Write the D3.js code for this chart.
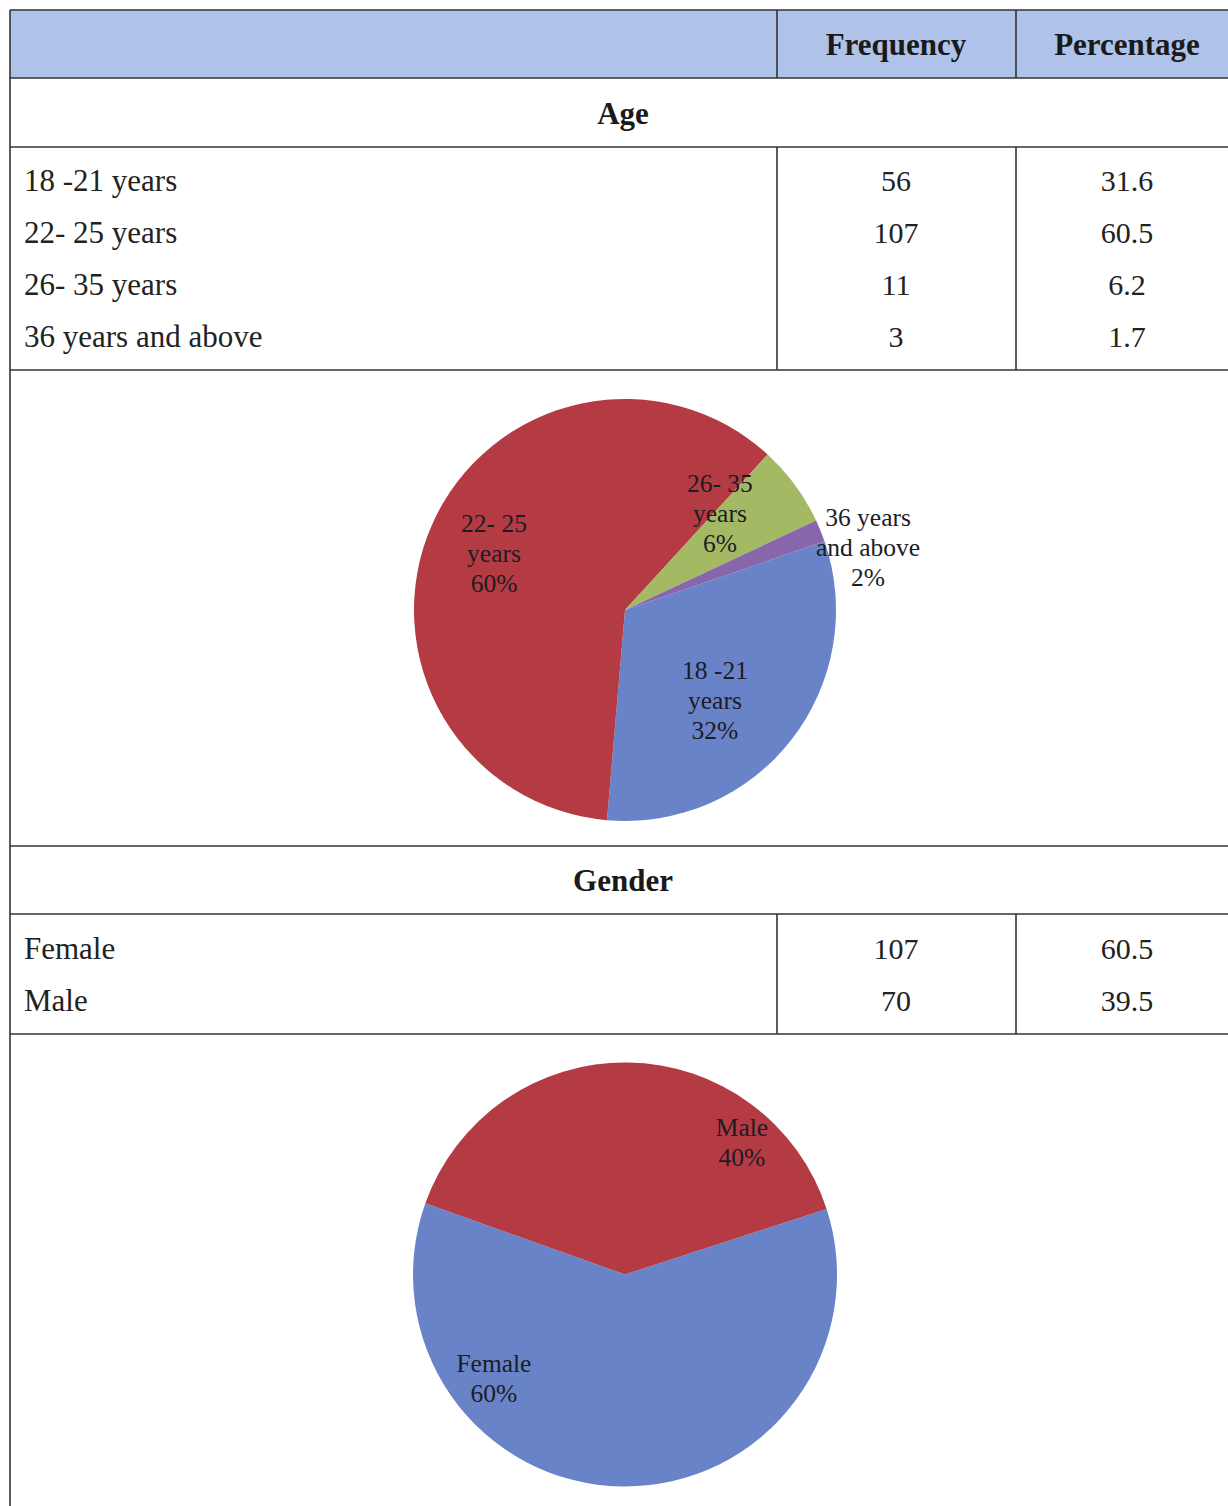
<!DOCTYPE html>
<meta charset="utf-8">
<script src="https://d3js.org/d3.v7.min.js"></script>
<style>
body { margin: 0; background: #fff; }
text { font-family: "Liberation Serif", "Times New Roman", serif; }
</style>
<svg id="chart" width="1228" height="1506"></svg>
<script>
// table + pie data
const colHeads = ["Frequency", "Percentage"]

const ageGroups = ["18 -21 years", "22- 25 years", "26- 35 years", "36 years and above"]
const ageFreq = [56, 107, 11, 3]
const agePct = ["31.6", "60.5", "6.2", "1.7"]
const agePieNames = [["18 -21", "years"], ["22- 25", "years"], ["26- 35", "years"], ["36 years", "and above"]]

const genders = ["Female", "Male"]
const genderFreq = [107, 70]
const genderPct = ["60.5", "39.5"]
const genderPieNames = [["Female"], ["Male"]]

const ageColors = ["#6883c8", "#b43a43", "#a3b963", "#8766ac"]
const genderColors = ["#6883c8", "#b43a43"]

// label placement (angle in degrees clockwise from top, distance as fraction of radius)
const ageLabelPos = [[135, 0.603], [293.5, 0.677], [44.4, 0.643], [75.5, 1.19]]
const genderLabelPos = [[231.7, 0.788], [41.4, 0.834]]

const svg = d3.select("#chart")
const x0 = 10, x1 = 777, x2 = 1016, x3 = 1240
const colCenters = [896, 1127]
const lineCol = "#333"

// header band
svg.append("rect").attr("x", x0).attr("y", 10).attr("width", x3 - x0).attr("height", 68)
  .attr("fill", "#aec2ea")

// horizontal rules
const hLines = [10, 78, 147, 370, 846, 914, 1034]
svg.selectAll(".hl").data(hLines).join("line")
  .attr("x1", x0).attr("x2", x3).attr("y1", d => d).attr("y2", d => d)
  .attr("stroke", lineCol).attr("stroke-width", 1.6)

// left border
svg.append("line").attr("x1", x0).attr("x2", x0).attr("y1", 10).attr("y2", 1506)
  .attr("stroke", lineCol).attr("stroke-width", 1.6)

// column rules
const vSpans = [[10, 78], [147, 370], [914, 1034]]
vSpans.forEach(s => {
  [x1, x2].forEach(x => {
    svg.append("line").attr("x1", x).attr("x2", x).attr("y1", s[0]).attr("y2", s[1])
      .attr("stroke", lineCol).attr("stroke-width", 1.6)
  })
})

// header text
svg.selectAll(".head").data(colHeads).join("text")
  .attr("x", (d, i) => colCenters[i]).attr("y", 55)
  .attr("text-anchor", "middle").attr("font-size", 31).attr("font-weight", "bold")
  .attr("fill", "#1a1a1a").text(d => d)

function sectionTitle(t, y) {
  svg.append("text").attr("x", 623).attr("y", y).attr("text-anchor", "middle")
    .attr("font-size", 31).attr("font-weight", "bold").attr("fill", "#1a1a1a").text(t)
}
sectionTitle("Age", 124)
sectionTitle("Gender", 891)

function rows(names, freq, pct, top) {
  const y = d3.scalePoint().domain(d3.range(names.length)).range([top, top + 52 * (names.length - 1)])
  names.forEach((n, i) => {
    const g = svg.append("g").attr("transform", `translate(0,${y(i)})`)
    g.append("text").attr("x", 24).attr("font-size", 31).attr("fill", "#222").text(n)
    g.append("text").attr("x", colCenters[0]).attr("text-anchor", "middle")
      .attr("font-size", 30).attr("fill", "#222").text(freq[i])
    g.append("text").attr("x", colCenters[1]).attr("text-anchor", "middle")
      .attr("font-size", 30).attr("fill", "#222").text(pct[i])
  })
}
rows(ageGroups, ageFreq, agePct, 191)
rows(genders, genderFreq, genderPct, 959)

const fmt = d3.format(".0%")

function drawPie(values, colors, names, labelPos, cx, cy, r, startDeg) {
  const a0 = startDeg * Math.PI / 180
  const pie = d3.pie().sort(null).startAngle(a0).endAngle(a0 + 2 * Math.PI)
  const arcs = pie(values)
  const total = d3.sum(values)
  const arc = d3.arc().innerRadius(0).outerRadius(r)
  const g = svg.append("g").attr("transform", `translate(${cx},${cy})`)
  g.selectAll("path").data(arcs).join("path")
    .attr("d", arc).attr("fill", (d, i) => colors[i])

  arcs.forEach((d, i) => {
    const a = labelPos[i][0] * Math.PI / 180
    const dist = labelPos[i][1] * r
    const lx = dist * Math.sin(a), ly = -dist * Math.cos(a)
    const lines = names[i].concat([fmt(d.value / total)])
    const lh = 30
    const t = g.append("text").attr("text-anchor", "middle").attr("font-size", 25.5)
      .attr("fill", "#1c1c24")
    lines.forEach((ln, k) => {
      t.append("tspan").attr("x", lx)
        .attr("y", ly + (k - (lines.length - 1) / 2) * lh + 9)
        .text(ln)
    })
  })
}

drawPie(ageFreq, ageColors, agePieNames, ageLabelPos, 625, 610, 211, 71)
drawPie(genderFreq, genderColors, genderPieNames, genderLabelPos, 625, 1274.5, 212, 72)
</script>
